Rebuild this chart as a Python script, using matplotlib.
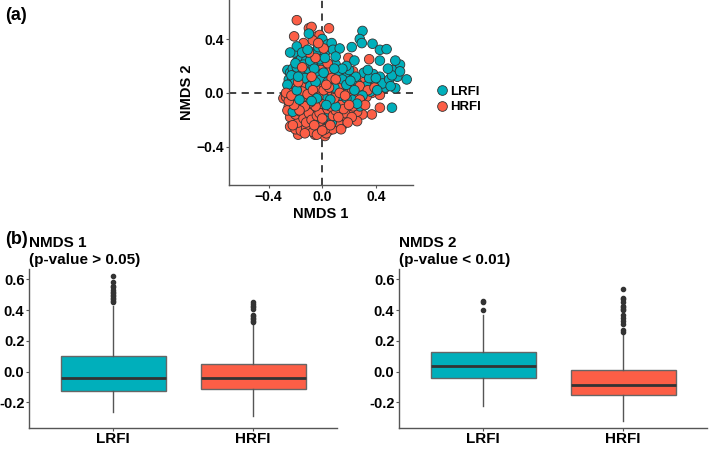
import matplotlib
matplotlib.use("Agg")
import matplotlib.pyplot as plt
from matplotlib.lines import Line2D

plt.rcParams['font.family'] = ['Liberation Sans', 'DejaVu Sans']
plt.rcParams['font.weight'] = 'bold'

teal = "#00AFBB"
orange = "#FC5E46"
groups = ["LRFI", "HRFI"]

# NMDS scores, one (x, y) per point
lrfi_pts = [
    (-0.26, 0.17), (-0.24, 0.15), (-0.22, 0.18), (-0.20, 0.14), (-0.18, 0.16), (-0.16, 0.12),
    (-0.14, 0.17), (-0.12, 0.15), (-0.10, 0.13), (-0.08, 0.16), (-0.06, 0.11), (-0.25, 0.10),
    (-0.23, 0.08), (-0.21, 0.11), (-0.19, 0.06), (-0.17, 0.09), (-0.15, 0.05), (-0.13, 0.08),
    (-0.11, 0.04), (-0.09, 0.09), (-0.07, 0.06), (-0.05, 0.03), (-0.03, 0.07), (-0.24, 0.04),
    (-0.22, 0.01), (-0.20, 0.03), (-0.18, -0.02), (-0.16, 0.02), (-0.14, -0.01), (-0.12, 0.02),
    (-0.10, -0.03), (-0.26, -0.05), (-0.24, -0.08), (-0.20, -0.07), (-0.15, -0.10), (-0.10, -0.08),
    (-0.06, -0.12), (-0.02, -0.06), (-0.21, 0.30), (-0.19, 0.345), (-0.24, 0.30), (-0.16, 0.25),
    (-0.12, 0.24), (-0.08, 0.27), (-0.07, 0.30), (-0.04, 0.30), (-0.05, 0.22), (0.00, 0.40),
    (0.04, 0.36), (0.07, 0.37), (0.02, 0.30), (0.08, 0.32), (0.13, 0.33), (0.03, 0.18),
    (0.06, 0.20), (0.10, 0.21), (0.00, 0.22), (-0.02, 0.25), (-0.10, 0.44), (0.02, 0.12),
    (0.05, 0.10), (0.08, 0.14), (0.11, 0.11), (0.14, 0.08), (0.17, 0.12), (0.20, 0.05),
    (0.01, 0.05), (0.04, 0.02), (0.07, 0.06), (0.10, 0.01), (0.13, 0.04), (0.16, 0.00),
    (0.19, 0.02), (0.22, -0.01), (0.02, -0.04), (0.05, -0.08), (0.08, -0.11), (0.11, -0.06),
    (0.13, -0.05), (0.16, -0.09), (0.02, -0.19), (0.00, -0.15), (0.05, -0.14), (0.23, -0.05),
    (0.28, -0.10), (0.26, 0.07), (0.31, 0.15), (0.25, 0.12), (0.28, 0.03), (0.33, 0.05),
    (0.36, 0.01), (0.38, 0.14), (0.43, 0.12), (0.40, 0.08), (0.47, 0.04), (0.45, 0.07),
    (0.50, 0.10), (0.545, 0.035), (0.56, 0.12), (0.63, 0.10), (0.53, 0.17), (0.58, 0.21),
    (0.545, 0.24), (0.43, 0.24), (0.24, 0.24), (0.22, 0.34), (0.30, 0.46), (0.28, 0.40),
    (0.295, 0.37), (0.375, 0.365), (0.43, 0.32), (0.48, 0.325), (0.52, -0.11), (0.35, 0.11),
    (0.20, 0.17), (0.18, 0.20), (0.30, -0.02), (0.41, 0.02), (0.51, 0.05), (-0.22, -0.14),
    (-0.12, -0.18), (-0.05, -0.20), (0.07, -0.22),
    (-0.23, 0.13), (-0.19, 0.19), (-0.15, 0.14), (-0.11, 0.18), (-0.07, 0.20), (-0.03, 0.14),
    (-0.01, 0.10), (-0.21, 0.07), (-0.17, 0.00), (-0.13, 0.11), (-0.09, 0.05), (-0.05, 0.08),
    (-0.26, 0.06), (-0.14, 0.21), (-0.20, 0.22), (-0.09, 0.24), (0.01, 0.15), (0.04, 0.08),
    (0.09, 0.04), (0.12, 0.15), (0.15, 0.10), (0.18, 0.06), (0.21, 0.09), (0.24, 0.02),
    (0.40, 0.11), (0.52, 0.13), (0.49, 0.18), (0.34, 0.17),
    (0.14, -0.02), (0.18, -0.04), (0.10, -0.10), (0.06, -0.05), (0.03, -0.09), (-0.04, -0.04),
    (-0.08, -0.06), (-0.17, -0.05), (-0.19, 0.02), (-0.06, 0.18), (0.02, 0.26), (-0.03, 0.34),
    (0.10, 0.27), (-0.15, 0.30), (-0.11, 0.32), (0.15, 0.18), (0.09, 0.18), (-0.18, 0.12),
    (0.26, -0.08), (0.58, 0.16),
]
hrfi_pts = [
    (-0.19, 0.54), (-0.21, 0.42), (-0.10, 0.48), (-0.08, 0.49), (0.05, 0.48), (-0.14, 0.37),
    (-0.04, 0.42), (-0.02, 0.43), (-0.07, 0.39), (-0.19, 0.23), (-0.12, 0.22), (-0.09, 0.17),
    (-0.04, 0.13), (0.195, 0.26), (0.23, 0.16), (0.35, 0.25), (0.13, 0.16), (0.18, 0.10),
    (0.31, 0.08), (0.45, 0.08), (0.43, -0.015), (0.37, 0.0), (0.33, -0.03), (0.43, -0.11),
    (0.37, -0.16), (0.30, -0.16), (0.26, -0.14), (0.26, -0.21), (0.16, -0.20), (0.15, -0.24),
    (0.10, -0.24), (0.05, -0.28), (0.02, -0.32), (-0.055, -0.31), (-0.18, -0.31), (-0.24, -0.25),
    (-0.29, -0.04), (-0.27, -0.03), (-0.25, -0.10), (-0.23, -0.15), (-0.21, -0.20), (-0.19, -0.12),
    (-0.17, -0.18), (-0.15, -0.23), (-0.13, -0.14), (-0.11, -0.20), (-0.09, -0.25), (-0.07, -0.16),
    (-0.05, -0.22), (-0.03, -0.27), (-0.01, -0.12), (0.01, -0.24), (0.03, -0.17), (0.05, -0.21),
    (0.07, -0.14), (0.09, -0.19), (0.11, -0.16), (0.13, -0.12), (-0.22, -0.06), (-0.20, -0.02),
    (-0.18, -0.07), (-0.16, -0.04), (-0.14, -0.08), (-0.12, -0.05), (-0.10, -0.11), (-0.08, -0.03),
    (-0.06, -0.07), (-0.04, -0.02), (-0.02, -0.09), (0.00, -0.05), (0.02, -0.01), (0.04, -0.06),
    (0.06, -0.03), (0.08, -0.07), (0.10, -0.02), (0.12, -0.09), (0.15, -0.04), (0.18, -0.08),
    (0.21, -0.12), (0.24, -0.06), (0.20, 0.00), (-0.24, 0.02), (-0.21, 0.06), (-0.17, 0.03),
    (-0.13, 0.06), (-0.09, 0.01), (-0.06, 0.05), (-0.02, 0.02), (0.00, 0.08), (0.03, 0.14),
    (-0.01, 0.17), (-0.15, 0.12), (-0.11, 0.10), (0.06, 0.16), (0.09, 0.07), (0.12, 0.02),
    (0.15, 0.06), (0.22, 0.03), (0.26, 0.01), (0.28, 0.05), (0.34, 0.02), (0.39, 0.04),
    (-0.20, -0.27), (-0.16, -0.28), (-0.12, -0.26), (-0.07, -0.29), (-0.02, -0.21), (0.03, -0.30),
    (0.08, -0.27), (0.12, -0.22), (-0.24, -0.18), (-0.18, -0.22), (0.17, -0.15), (0.22, -0.18),
    (0.19, -0.22),
    (-0.26, -0.13), (-0.22, -0.24), (-0.20, -0.16), (-0.18, -0.10), (-0.16, -0.14), (-0.14, -0.19),
    (-0.12, -0.22), (-0.10, -0.15), (-0.08, -0.20), (-0.06, -0.24), (-0.04, -0.17), (-0.02, -0.15),
    (0.00, -0.19), (0.02, -0.27), (0.04, -0.12), (0.06, -0.24), (0.08, -0.17), (0.10, -0.13),
    (0.12, -0.18), (0.14, -0.09), (0.16, -0.12), (0.06, -0.10), (-0.01, -0.08), (-0.05, -0.10),
    (-0.09, -0.07), (-0.13, -0.10), (-0.17, -0.13), (-0.21, -0.09), (-0.25, -0.06), (-0.27, 0.00),
    (-0.23, -0.02), (-0.19, 0.04), (-0.15, 0.01), (-0.11, -0.01), (-0.07, 0.02), (-0.03, -0.03),
    (0.01, 0.02), (0.05, 0.04), (0.09, -0.04), (0.13, 0.00), (0.17, -0.02), (0.23, -0.10),
    (0.28, -0.05), (0.32, -0.09), (0.04, 0.22), (-0.05, 0.26), (-0.10, 0.30), (-0.15, 0.19),
    (-0.18, 0.08), (0.01, 0.33), (-0.03, 0.37), (-0.13, -0.30), (-0.04, -0.31), (0.00, -0.28),
    (0.14, -0.27), (0.20, -0.09), (0.07, 0.11), (0.10, 0.10), (0.03, 0.06), (-0.08, 0.12),
]

# boxplot summaries: q1, median, q3, whisker low, whisker high, outliers
nmds1_stats = {
    "LRFI": dict(q1=-0.125, med=-0.044, q3=0.1025, whislo=-0.26, whishi=0.43,
                 fliers=[0.45, 0.46, 0.47, 0.48, 0.49, 0.50, 0.51, 0.52, 0.53, 0.55, 0.56, 0.58, 0.62]),
    "HRFI": dict(q1=-0.116, med=-0.042, q3=0.05, whislo=-0.288, whishi=0.30,
                 fliers=[0.32, 0.33, 0.34, 0.35, 0.36, 0.37, 0.41, 0.42, 0.43, 0.44, 0.45]),
}
nmds2_stats = {
    "LRFI": dict(q1=-0.044, med=0.0375, q3=0.125, whislo=-0.225, whishi=0.37,
                 fliers=[0.40, 0.45, 0.46]),
    "HRFI": dict(q1=-0.15, med=-0.0875, q3=0.011, whislo=-0.32, whishi=0.255,
                 fliers=[0.26, 0.27, 0.31, 0.33, 0.35, 0.37, 0.40, 0.41, 0.42, 0.43, 0.45, 0.47, 0.48, 0.54]),
}

axis_col = "#555555"
fig = plt.figure(figsize=(7.09, 4.50), dpi=100)


def style_axis(ax, size):
    for s in ["top", "right"]:
        ax.spines[s].set_visible(False)
    for s in ["left", "bottom"]:
        ax.spines[s].set_color(axis_col)
        ax.spines[s].set_linewidth(1.0)
    ax.tick_params(colors=axis_col, labelcolor="black", labelsize=size, length=2, width=0.8, pad=1.5)
    for lab in ax.get_xticklabels() + ax.get_yticklabels():
        lab.set_fontweight("bold")


# ---- (a) NMDS scatter
ax = fig.add_axes([0.3234, 0.5889, 0.2591, 0.4111])
ax.axhline(0, color="#333333", ls=(0, (4, 3)), lw=1.3, zorder=1)
ax.axvline(0, color="#333333", ls=(0, (4, 3)), lw=1.3, zorder=1)
# interleave the two groups so neither sits entirely on top
order = []
n = max(len(lrfi_pts), len(hrfi_pts))
for i in range(n):
    if i < len(lrfi_pts):
        order.append((lrfi_pts[i], teal))
    if i < len(hrfi_pts):
        order.append((hrfi_pts[i], orange))
ax.scatter([p[0][0] for p in order], [p[0][1] for p in order], c=[p[1] for p in order],
           s=48, edgecolors="#333333", linewidths=0.6, zorder=2)
ax.set_xlim(-0.694, 0.677)
ax.set_ylim(-0.684, 0.69)
ax.set_xticks([-0.4, 0.0, 0.4])
ax.set_yticks([-0.4, 0.0, 0.4])
ax.set_xlabel("NMDS 1", fontsize=10.5, fontweight="bold", labelpad=2)
ax.set_ylabel("NMDS 2", fontsize=10.5, fontweight="bold", labelpad=2)
style_axis(ax, 10)

handles = [Line2D([], [], marker="o", ls="", markersize=7, markerfacecolor=c,
                  markeredgecolor="#333333", markeredgewidth=0.6, label=g)
           for g, c in zip(groups, [teal, orange])]
fig.legend(handles=handles, loc="center left", bbox_to_anchor=(0.605, 0.779), frameon=False,
           prop={"weight": "bold", "size": 9.5}, handletextpad=0.1, labelspacing=0.25,
           handlelength=1.0, borderpad=0)

fig.text(0.007, 0.985, "(a)", fontsize=13, fontweight="bold", va="top", ha="left")
fig.text(0.007, 0.487, "(b)", fontsize=13, fontweight="bold", va="top", ha="left")

# ---- (b) boxplots
cols = [teal, orange]
for left, stats, title in [(0.0413, nmds1_stats, "NMDS 1\n(p-value > 0.05)"),
                           (0.5632, nmds2_stats, "NMDS 2\n(p-value < 0.01)")]:
    bx = fig.add_axes([left, 0.05, 0.434, 0.352])
    bstats = [dict(label=g, **stats[g]) for g in groups]
    bp = bx.bxp(bstats, positions=[1, 2], widths=0.75, patch_artist=True,
                boxprops=dict(edgecolor="#666666", linewidth=1.0),
                medianprops=dict(color="#333333", linewidth=2.0),
                whiskerprops=dict(color="#555555", linewidth=1.0),
                capprops=dict(linewidth=0),
                flierprops=dict(marker="o", markersize=3, markerfacecolor="#333333",
                                markeredgecolor="#333333"))
    for patch, c in zip(bp["boxes"], cols):
        patch.set_facecolor(c)
    bx.set_xlim(0.4, 2.6)
    bx.set_ylim(-0.364, 0.667)
    bx.set_yticks([-0.2, 0.0, 0.2, 0.4, 0.6])
    bx.set_yticklabels(["-0.2", "0.0", "0.2", "0.4", "0.6"])
    bx.set_xticks([1, 2])
    bx.set_xticklabels(groups)
    bx.set_title(title, loc="left", fontsize=11, fontweight="bold", pad=4, linespacing=1.25)
    style_axis(bx, 10.5)
    bx.tick_params(axis="x", labelsize=11, pad=1.5)

fig.savefig("out.png", dpi=100)
